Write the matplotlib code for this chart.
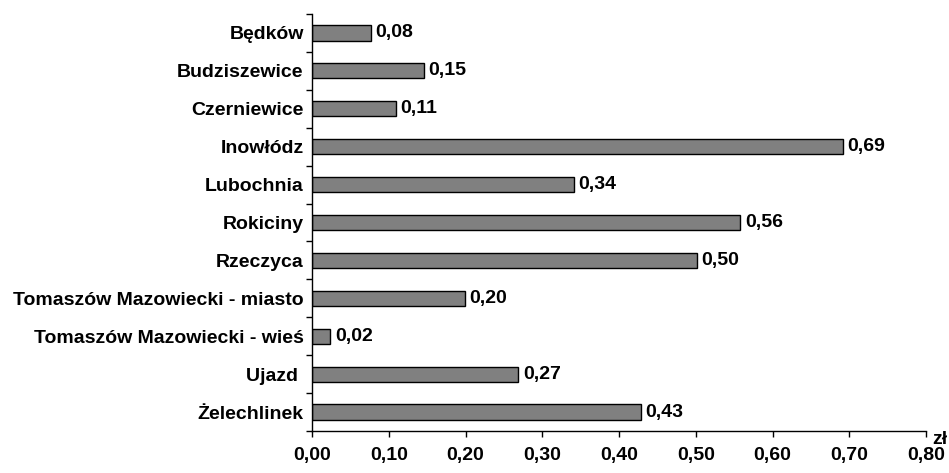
import matplotlib
matplotlib.use("Agg")
import matplotlib.pyplot as plt
from matplotlib.ticker import FixedLocator

categories = ["Będków", "Budziszewice", "Czerniewice", "Inowłódz", "Lubochnia",
              "Rokiciny", "Rzeczyca", "Tomaszów Mazowiecki - miasto",
              "Tomaszów Mazowiecki - wieś", "Ujazd ", "Żelechlinek"]
values = [0.077, 0.146, 0.109, 0.692, 0.341, 0.558, 0.501, 0.199, 0.024, 0.269, 0.428]
xticks = [0.0, 0.1, 0.2, 0.3, 0.4, 0.5, 0.6, 0.7, 0.8]

plt.rcParams['font.family'] = ['Liberation Sans', 'DejaVu Sans']
plt.rcParams['font.weight'] = 'bold'
FS = 14

fig = plt.figure(figsize=(9.49, 4.73), dpi=100)
ax = fig.add_axes([0.3288, 0.0888, 0.9758 - 0.3288, 0.9704 - 0.0888])

n = len(categories)
ypos = list(range(n))
ax.barh(ypos, values, height=0.4, color='#808080', edgecolor='black', linewidth=1.0)
for y, v in zip(ypos, values):
    ax.text(v + 0.006, y, f"{v:.2f}".replace('.', ','), va='center', ha='left',
            fontsize=FS, fontweight='bold')

ax.set_ylim(n - 0.5, -0.5)
ax.set_xlim(0, 0.8)
ax.set_yticks(ypos)
ax.set_yticklabels(categories, fontsize=FS, fontweight='bold')
ax.tick_params(axis='y', length=0, pad=6)
ax.yaxis.set_minor_locator(FixedLocator([i - 0.5 for i in range(n + 1)]))
ax.tick_params(axis='y', which='minor', length=4.5, width=1)
ax.set_xticks(xticks)
ax.set_xticklabels([f"{t:.2f}".replace('.', ',') for t in xticks], fontsize=FS, fontweight='bold')
ax.tick_params(axis='x', length=4.5, width=1, pad=7)

for s in ['top', 'right']:
    ax.spines[s].set_visible(False)
for s in ['left', 'bottom']:
    ax.spines[s].set_linewidth(1.0)

fig.text(932 / 949, 1 - 439 / 473, "zł", fontsize=FS, fontweight='bold', ha='left', va='center')

fig.savefig("out.png", dpi=100)
